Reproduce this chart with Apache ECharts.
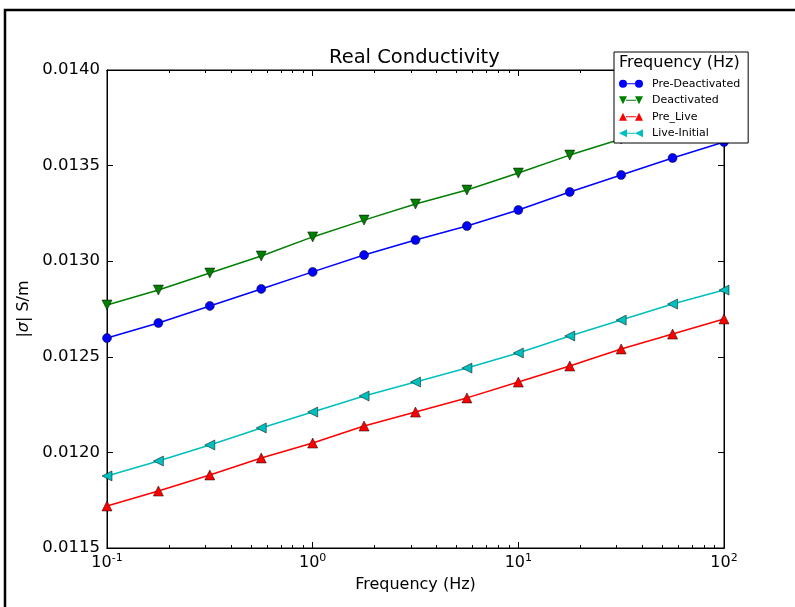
<!DOCTYPE html>
<html>
<head>
<meta charset="utf-8">
<script src="https://cdn.jsdelivr.net/npm/echarts@6/dist/echarts.min.js"></script>
<style>
  html, body { margin: 0; padding: 0; background: #fff; }
  #main { width: 795px; height: 607px; }
</style>
</head>
<body>
<div id="main"></div>
<script>
var freqs = [0.1, 0.1778, 0.3162, 0.5623, 1, 1.778, 3.162, 5.623, 10, 17.78, 31.62, 56.23, 100];
var preDeactivated = [0.012598, 0.012677, 0.012766, 0.012855, 0.012944, 0.013032, 0.013111, 0.013184, 0.013268, 0.013362, 0.013451, 0.013540, 0.013623];
var deactivated = [0.012771, 0.012849, 0.012938, 0.013027, 0.013127, 0.013215, 0.013299, 0.013372, 0.013461, 0.013555, 0.013639, 0.013728, 0.013817];
var preLive = [0.011720, 0.011798, 0.011882, 0.011971, 0.012049, 0.012138, 0.012211, 0.012285, 0.012368, 0.012452, 0.012541, 0.012619, 0.012698];
var liveInitial = [0.011877, 0.011955, 0.012039, 0.012128, 0.012211, 0.012295, 0.012368, 0.012441, 0.012520, 0.012609, 0.012692, 0.012776, 0.012849];
var majorTicks = [0.1, 1, 10, 100];
var minorTicks = [0.2, 0.3, 0.4, 0.5, 0.6, 0.7, 0.8, 0.9, 2, 3, 4, 5, 6, 7, 8, 9, 20, 30, 40, 50, 60, 70, 80, 90];

var chartDom = document.getElementById('main');
var myChart = echarts.init(chartDom, null, { renderer: 'canvas' });
var font = 'DejaVu Sans';

function pairs(ys) {
  return ys.map(function (y, i) { return [freqs[i], y]; });
}

// matplotlib-style legend icons: marker - line - marker
var icons = {
  circle: 'path://M0,4 A4,4 0 1,1 8,4 A4,4 0 1,1 0,4 Z M8,3.6 L16,3.6 L16,4.4 L8,4.4 Z M16,4 A4,4 0 1,1 24,4 A4,4 0 1,1 16,4 Z',
  down: 'path://M0,0 L8,0 L4,8 Z M7,3.6 L17,3.6 L17,4.4 L7,4.4 Z M16,0 L24,0 L20,8 Z',
  up: 'path://M0,8 L8,8 L4,0 Z M7,3.6 L17,3.6 L17,4.4 L7,4.4 Z M16,8 L24,8 L20,0 Z',
  left: 'path://M0,4 L8,0 L8,8 Z M8,3.6 L16,3.6 L16,4.4 L8,4.4 Z M16,4 L24,0 L24,8 Z'
};

function xAx(pos, ticks, len, labels) {
  return {
    type: 'log',
    logBase: 10,
    min: 0.1,
    max: 100,
    position: pos,
    axisLine: { show: true, lineStyle: { color: '#000', width: 1 } },
    axisTick: { show: true, inside: true, length: len, customValues: ticks, lineStyle: { color: '#000', width: 1 } },
    axisLabel: labels ? {
      show: true,
      customValues: majorTicks,
      margin: 5,
      formatter: function (v) {
        return '{b|10}{s|' + Math.round(Math.log10(v)) + '}';
      },
      rich: {
        b: { fontFamily: font, fontSize: 16, color: '#000' },
        s: { fontFamily: font, fontSize: 11, color: '#000', padding: [0, 0, 9, 0] }
      }
    } : { show: false },
    splitLine: { show: false },
    minorTick: { show: false }
  };
}

function yAx(pos, labels) {
  return {
    type: 'value',
    min: 0.0115,
    max: 0.0140,
    interval: 0.0005,
    position: pos,
    axisLine: { show: true, lineStyle: { color: '#000', width: 1 } },
    axisTick: { show: true, inside: true, length: 6, lineStyle: { color: '#000', width: 1 } },
    axisLabel: labels ? {
      show: true,
      margin: 7,
      fontFamily: font,
      fontSize: 16.5,
      color: '#000',
      formatter: function (v) { return v.toFixed(4); }
    } : { show: false },
    splitLine: { show: false }
  };
}

var xBottom = xAx('bottom', majorTicks, 6, true);
xBottom.name = 'Frequency (Hz)';
xBottom.nameLocation = 'middle';
xBottom.nameGap = 29;
xBottom.nameTextStyle = { fontFamily: font, fontSize: 16, color: '#000' };

var yLeft = yAx('left', true);
yLeft.name = '|{i|σ}| S/m';
yLeft.nameLocation = 'middle';
yLeft.nameGap = 73;
yLeft.nameTextStyle = {
  fontFamily: font, fontSize: 16, color: '#000',
  rich: { i: { fontFamily: font, fontStyle: 'italic', fontSize: 16, color: '#000' } }
};

function lineSeries(name, ys, color, symbol, rotate, size) {
  return {
    name: name,
    type: 'line',
    data: pairs(ys),
    xAxisIndex: 0,
    yAxisIndex: 0,
    symbol: symbol,
    symbolRotate: rotate,
    symbolSize: size,
    showAllSymbol: true,
    clip: true,
    lineStyle: { color: color, width: 1.5 },
    itemStyle: { color: color, borderColor: '#000', borderWidth: 0.5 },
    emphasis: { disabled: true },
    animation: false
  };
}

var option = {
  animation: false,
  backgroundColor: '#fff',
  textStyle: { fontFamily: font },
  title: [
    {
      text: 'Real Conductivity',
      left: 329,
      top: 48,
      padding: 0,
      textStyle: { fontFamily: font, fontSize: 19.5, fontWeight: 'normal', color: '#000' }
    },
    {
      text: 'Frequency (Hz)',
      left: 619,
      top: 55,
      padding: 0,
      z: 10,
      textStyle: { fontFamily: font, fontSize: 16, fontWeight: 'normal', color: '#000' }
    }
  ],
  legend: {
    orient: 'vertical',
    left: 614,
    top: 52,
    padding: [25, 8, 3, 5],
    itemGap: 3,
    itemWidth: 24,
    itemHeight: 8,
    symbolRotate: 0,
    backgroundColor: '#fff',
    borderColor: '#000',
    borderWidth: 1,
    borderRadius: 0,
    itemStyle: { borderWidth: 0 },
    textStyle: { fontFamily: font, fontSize: 11, color: '#000', padding: [0, 0, 0, 4], lineHeight: 13.5 },
    data: [
      { name: 'Pre-Deactivated', icon: icons.circle },
      { name: 'Deactivated', icon: icons.down },
      { name: 'Pre_Live', icon: icons.up },
      { name: 'Live-Initial', icon: icons.left }
    ]
  },
  grid: {
    left: 107,
    top: 70,
    right: 71,
    bottom: 59,
    show: true,
    borderColor: '#000',
    borderWidth: 1,
    backgroundColor: '#fff'
  },
  xAxis: [
    xBottom,
    xAx('bottom', minorTicks, 3, false),
    xAx('top', majorTicks, 6, false),
    xAx('top', minorTicks, 3, false)
  ],
  yAxis: [
    yLeft,
    yAx('right', false)
  ],
  graphic: [
    {
      type: 'rect',
      shape: { x: 5, y: 10, width: 820, height: 700 },
      style: { fill: null, stroke: '#000', lineWidth: 2.5 },
      silent: true
    }
  ],
  series: [
    lineSeries('Pre-Deactivated', preDeactivated, '#0000ff', 'circle', 0, 9),
    lineSeries('Deactivated', deactivated, '#008000', 'triangle', 180, 10),
    lineSeries('Pre_Live', preLive, '#ff0000', 'triangle', 0, 10),
    lineSeries('Live-Initial', liveInitial, '#00bfbf', 'triangle', 90, 10)
  ]
};

option && myChart.setOption(option);
</script>
</body>
</html>
